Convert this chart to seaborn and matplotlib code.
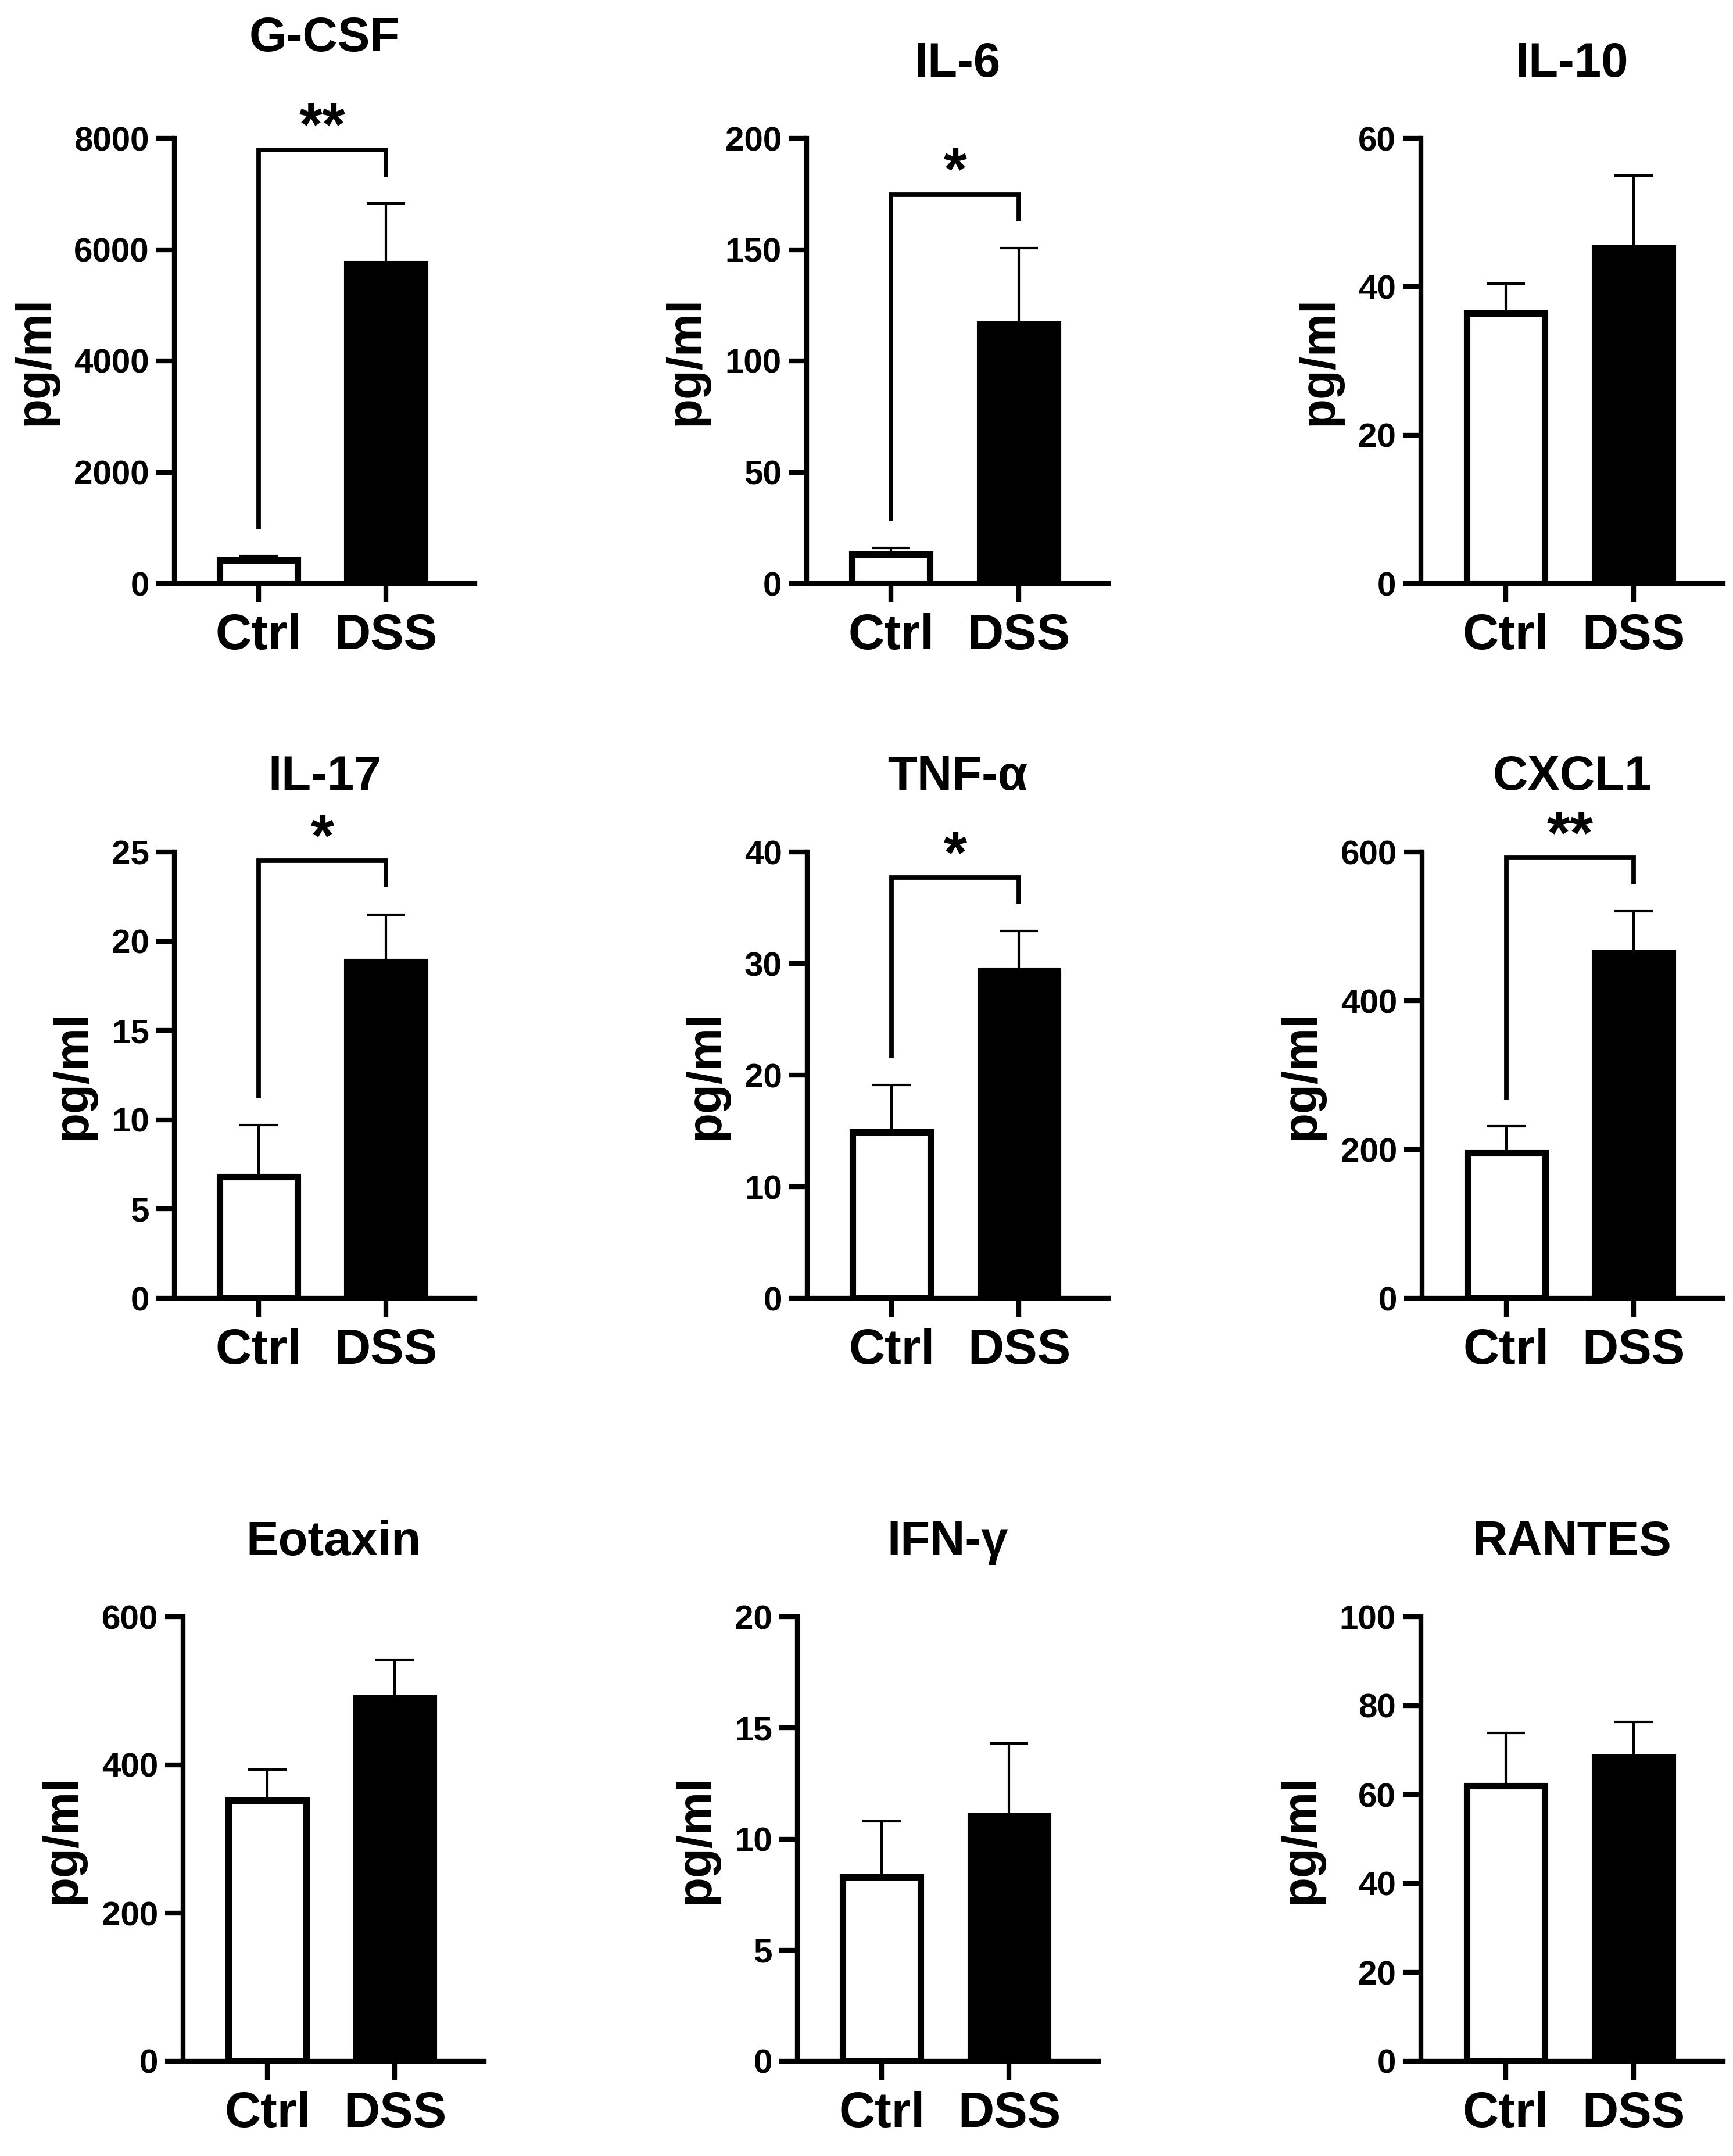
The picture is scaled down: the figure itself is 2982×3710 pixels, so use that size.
import matplotlib
matplotlib.use("Agg")
import matplotlib.pyplot as plt
import pandas as pd
import seaborn as sns

# data (mean, upper error)
cytokines = ["G-CSF", "IL-6", "IL-10", "IL-17", "TNF-α", "CXCL1", "Eotaxin", "IFN-γ", "RANTES"]
groups = ["Ctrl", "DSS"]
ctrl_mean = [420, 13, 36.4, 6.8, 14.9, 195, 352, 8.3, 61.9]
ctrl_err = [70, 3, 4.0, 2.9, 4.2, 36, 42, 2.5, 11.9]
dss_mean = [5740, 116.4, 45.2, 18.85, 29.4, 464, 490, 11.03, 68.4]
dss_err = [1093, 34.3, 9.8, 2.65, 3.5, 56, 52, 3.27, 7.9]
stars = ["**", "*", "", "*", "*", "**", "", "", ""]
yticks = [
    [0, 2000, 4000, 6000, 8000],
    [0, 50, 100, 150, 200],
    [0, 20, 40, 60],
    [0, 5, 10, 15, 20, 25],
    [0, 10, 20, 30, 40],
    [0, 200, 400, 600],
    [0, 200, 400, 600],
    [0, 5, 10, 15, 20],
    [0, 20, 40, 60, 80, 100],
]

sns.set_style("ticks")
plt.rcParams["font.family"] = ["Liberation Sans", "DejaVu Sans"]
plt.rcParams["font.weight"] = "bold"
plt.rcParams["axes.labelweight"] = "bold"
plt.rcParams["axes.titleweight"] = "bold"
for key in ["text.color", "axes.labelcolor", "axes.edgecolor", "xtick.color", "ytick.color"]:
    plt.rcParams[key] = "black"

W, H = 2982, 3710
fig = plt.figure(figsize=(W / 200, H / 200), dpi=200)

# axes boxes in pixels: (left, top, right, bottom)
rows = [(238, 1004), (1466, 2234), (2782, 3547)]
cols = [
    [(300, 817), (1388, 1907), (2445, 2965)],
    [(300, 817), (1389, 1907), (2447, 2964)],
    [(315, 833), (1372, 1890), (2445, 2965)],
]
title_pad = [54, 38, 38, 38.5, 38.5, 38.5, 38, 38, 38]

for i, name in enumerate(cytokines):
    r, c = divmod(i, 3)
    top, bot = rows[r]
    left, right = cols[r][c]
    ax = fig.add_axes([left / W, 1 - bot / H, (right - left) / W, (bot - top) / H])

    df = pd.DataFrame({"group": groups, "value": [ctrl_mean[i], dss_mean[i]]})
    sns.barplot(data=df, x="group", y="value", hue="group", palette=["white", "black"],
                saturation=1, edgecolor="black", linewidth=4, width=0.61,
                errorbar=None, legend=False, ax=ax)
    ax.errorbar([0, 1], [ctrl_mean[i], dss_mean[i]], yerr=[[0, 0], [ctrl_err[i], dss_err[i]]],
                fmt="none", ecolor="black", elinewidth=1.5, capsize=12, capthick=1.5, zorder=3)

    ymax = yticks[i][-1]
    ax.set_ylim(0, ymax)
    ax.set_xlim(-0.662, 1.70)
    ax.set_yticks(yticks[i])
    sns.despine(ax=ax)
    for s in ["left", "bottom"]:
        ax.spines[s].set_linewidth(3)
        ax.spines[s].set_color("black")
    ax.tick_params(axis="y", length=11, width=3, pad=4.5, labelsize=21, colors="black")
    ax.tick_params(axis="x", length=11.5, width=3, pad=7, labelsize=31, colors="black")
    ax.set_xlabel("")
    ax.set_ylabel("pg/ml", fontsize=30, labelpad=10, color="black")
    ax.set_title(name, fontsize=30, pad=title_pad[i], color="black")

    if stars[i]:
        gap = 0.06 * ymax
        l_leg = ctrl_mean[i] + ctrl_err[i] + gap
        r_leg = dss_mean[i] + dss_err[i] + gap
        br_top = max(l_leg, r_leg) + gap
        ax.plot([0, 0, 1, 1], [l_leg, br_top, br_top, r_leg], color="black", lw=2.8,
                clip_on=False, solid_joinstyle="miter", solid_capstyle="butt")
        ax.annotate(stars[i], xy=(0.5, br_top), xytext=(0, 3), textcoords="offset points",
                    ha="center", va="baseline", fontsize=37, fontweight="bold",
                    color="black", annotation_clip=False)

fig.savefig("out.png", dpi=200)
